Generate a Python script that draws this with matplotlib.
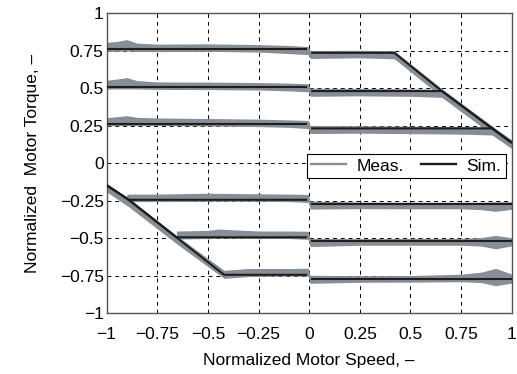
import numpy as np
import matplotlib
matplotlib.use("Agg")
import matplotlib.pyplot as plt

plt.rcParams['font.family'] = ['Liberation Sans', 'DejaVu Sans']
plt.rcParams['font.size'] = 12.5

# simulated curves (speed, torque) - normalized
sim_pos = [
    ([-1, -0.01], [0.76, 0.76], [0.01, 0.42, 0.655, 0.903, 1], [0.735, 0.735, 0.48, 0.231, 0.135]),
    ([-1, -0.01], [0.505, 0.505], [0.01, 0.655, 0.903, 1], [0.48, 0.48, 0.231, 0.135]),
    ([-1, -0.01], [0.26, 0.26], [0.01, 0.903, 1], [0.231, 0.231, 0.135]),
]
sim_neg = [
    ([-1, -0.89, -0.01], [-0.147, -0.245, -0.245], [0.01, 1], [-0.272, -0.272]),
    ([-1, -0.89, -0.655, -0.01], [-0.147, -0.245, -0.495, -0.495], [0.01, 1], [-0.52, -0.52]),
    ([-1, -0.89, -0.655, -0.42, -0.01], [-0.147, -0.245, -0.495, -0.745, -0.745], [0.01, 1], [-0.77, -0.77]),
]

# measured bands: speed, band centre, half width
meas_x_a = [-1, -0.95, -0.9, -0.85, -0.75, -0.5, -0.25, -0.1, -0.005, 0.005, 0.1, 0.25, 0.42, 0.655, 0.903, 1]
meas_c_a = [0.775, 0.778, 0.785, 0.772, 0.768, 0.77, 0.765, 0.757, 0.75, 0.724, 0.725, 0.727, 0.722, 0.468, 0.218, 0.125]
meas_w_a = [0.03, 0.033, 0.038, 0.028, 0.025, 0.025, 0.025, 0.027, 0.027, 0.027, 0.026, 0.025, 0.027, 0.027, 0.027, 0.027]

meas_x_b = [-1, -0.95, -0.9, -0.85, -0.75, -0.5, -0.25, -0.1, -0.005, 0.005, 0.25, 0.5, 0.655, 0.903, 1]
meas_c_b = [0.522, 0.527, 0.532, 0.522, 0.516, 0.515, 0.512, 0.507, 0.502, 0.472, 0.473, 0.47, 0.465, 0.218, 0.125]
meas_w_b = [0.03, 0.033, 0.038, 0.028, 0.025, 0.025, 0.025, 0.026, 0.027, 0.027, 0.025, 0.025, 0.027, 0.027, 0.027]

meas_x_c = [-1, -0.95, -0.9, -0.85, -0.75, -0.5, -0.25, -0.1, -0.005, 0.005, 0.25, 0.5, 0.75, 0.903, 1]
meas_c_c = [0.276, 0.279, 0.283, 0.278, 0.276, 0.272, 0.268, 0.263, 0.257, 0.224, 0.224, 0.221, 0.218, 0.214, 0.125]
meas_w_c = [0.027, 0.03, 0.033, 0.027, 0.025, 0.025, 0.025, 0.025, 0.027, 0.027, 0.025, 0.025, 0.025, 0.027, 0.027]

meas_x_d = [-0.9, -0.75, -0.5, -0.25, -0.1, -0.005, 0.005, 0.25, 0.5, 0.75, 0.85, 0.92, 1]
meas_c_d = [-0.232, -0.232, -0.228, -0.23, -0.232, -0.236, -0.28, -0.282, -0.283, -0.283, -0.286, -0.29, -0.283]
meas_w_d = [0.025, 0.025, 0.027, 0.025, 0.025, 0.027, 0.027, 0.022, 0.022, 0.022, 0.025, 0.032, 0.025]

meas_x_e = [-0.655, -0.5, -0.45, -0.25, -0.1, -0.005, 0.005, 0.25, 0.5, 0.75, 0.85, 0.92, 1]
meas_c_e = [-0.48, -0.476, -0.47, -0.478, -0.478, -0.482, -0.53, -0.526, -0.525, -0.525, -0.525, -0.527, -0.525]
meas_w_e = [0.027, 0.027, 0.03, 0.025, 0.025, 0.027, 0.027, 0.022, 0.023, 0.023, 0.029, 0.045, 0.027]

meas_x_f = [-1, -0.89, -0.655, -0.42, -0.3, -0.1, -0.005, 0.005, 0.25, 0.5, 0.75, 0.85, 0.92, 1]
meas_c_f = [-0.165, -0.265, -0.51, -0.742, -0.73, -0.728, -0.728, -0.775, -0.773, -0.772, -0.766, -0.762, -0.76, -0.77]
meas_w_f = [0.027, 0.027, 0.027, 0.027, 0.027, 0.025, 0.027, 0.027, 0.022, 0.022, 0.025, 0.035, 0.058, 0.03]

meas = [(meas_x_a, meas_c_a, meas_w_a), (meas_x_b, meas_c_b, meas_w_b), (meas_x_c, meas_c_c, meas_w_c),
        (meas_x_d, meas_c_d, meas_w_d), (meas_x_e, meas_c_e, meas_w_e), (meas_x_f, meas_c_f, meas_w_f)]

ticks = [-1, -0.75, -0.5, -0.25, 0, 0.25, 0.5, 0.75, 1]
tick_labels = ['\u22121', '\u22120.75', '\u22120.5', '\u22120.25', '0', '0.25', '0.5', '0.75', '1']

meas_color = '#878e95'
sim_color = '#1e1e1e'

fig = plt.figure(figsize=(5.17, 3.74), dpi=100)
ax = fig.add_axes([0.206, 0.163, 0.784, 0.802])

for mx, mc, mw in meas:
    mx = np.array(mx)
    mc = np.array(mc)
    mw = np.array(mw)
    ax.fill_between(mx, mc - mw, mc + mw, color=meas_color, lw=0, zorder=2)

for xl, yl, xr, yr in sim_pos + sim_neg:
    ax.plot(xl, yl, color=sim_color, lw=1.5, zorder=3, solid_capstyle='butt')
    ax.plot(xr, yr, color=sim_color, lw=1.5, zorder=3, solid_capstyle='butt')

# legend handles
ax.plot([], [], color=meas_color, lw=1.7, label='Meas.')
ax.plot([], [], color=sim_color, lw=1.7, label='Sim.')

ax.set_xlim(-1, 1)
ax.set_ylim(-1, 1)
ax.set_xticks(ticks)
ax.set_xticklabels(tick_labels)
ax.set_yticks(ticks)
ax.set_yticklabels(tick_labels)
ax.grid(True, color='black', linestyle=(0, (4, 4)), lw=0.7)
ax.set_axisbelow(True)
ax.tick_params(axis='both', direction='in', length=0, labelsize=12.5)
ax.tick_params(axis='x', pad=10)
ax.tick_params(axis='y', pad=2)
for sp in ax.spines.values():
    sp.set_color('#555555')
    sp.set_linewidth(1.0)

ax.set_xlabel('Normalized Motor Speed, \u2013', fontsize=12.5, labelpad=8)
ax.set_ylabel('Normalized  Motor Torque, \u2013', fontsize=12.5, labelpad=14)

leg = ax.legend(loc='upper left', bbox_to_anchor=(0.495, 0.53), ncol=2, frameon=True,
                fancybox=False, edgecolor='black', framealpha=1, fontsize=12.5,
                handlelength=2.0, columnspacing=1.0, handletextpad=0.6, borderpad=0.25,
                borderaxespad=0)
leg.get_frame().set_linewidth(0.8)

fig.savefig('out.png', dpi=100)
